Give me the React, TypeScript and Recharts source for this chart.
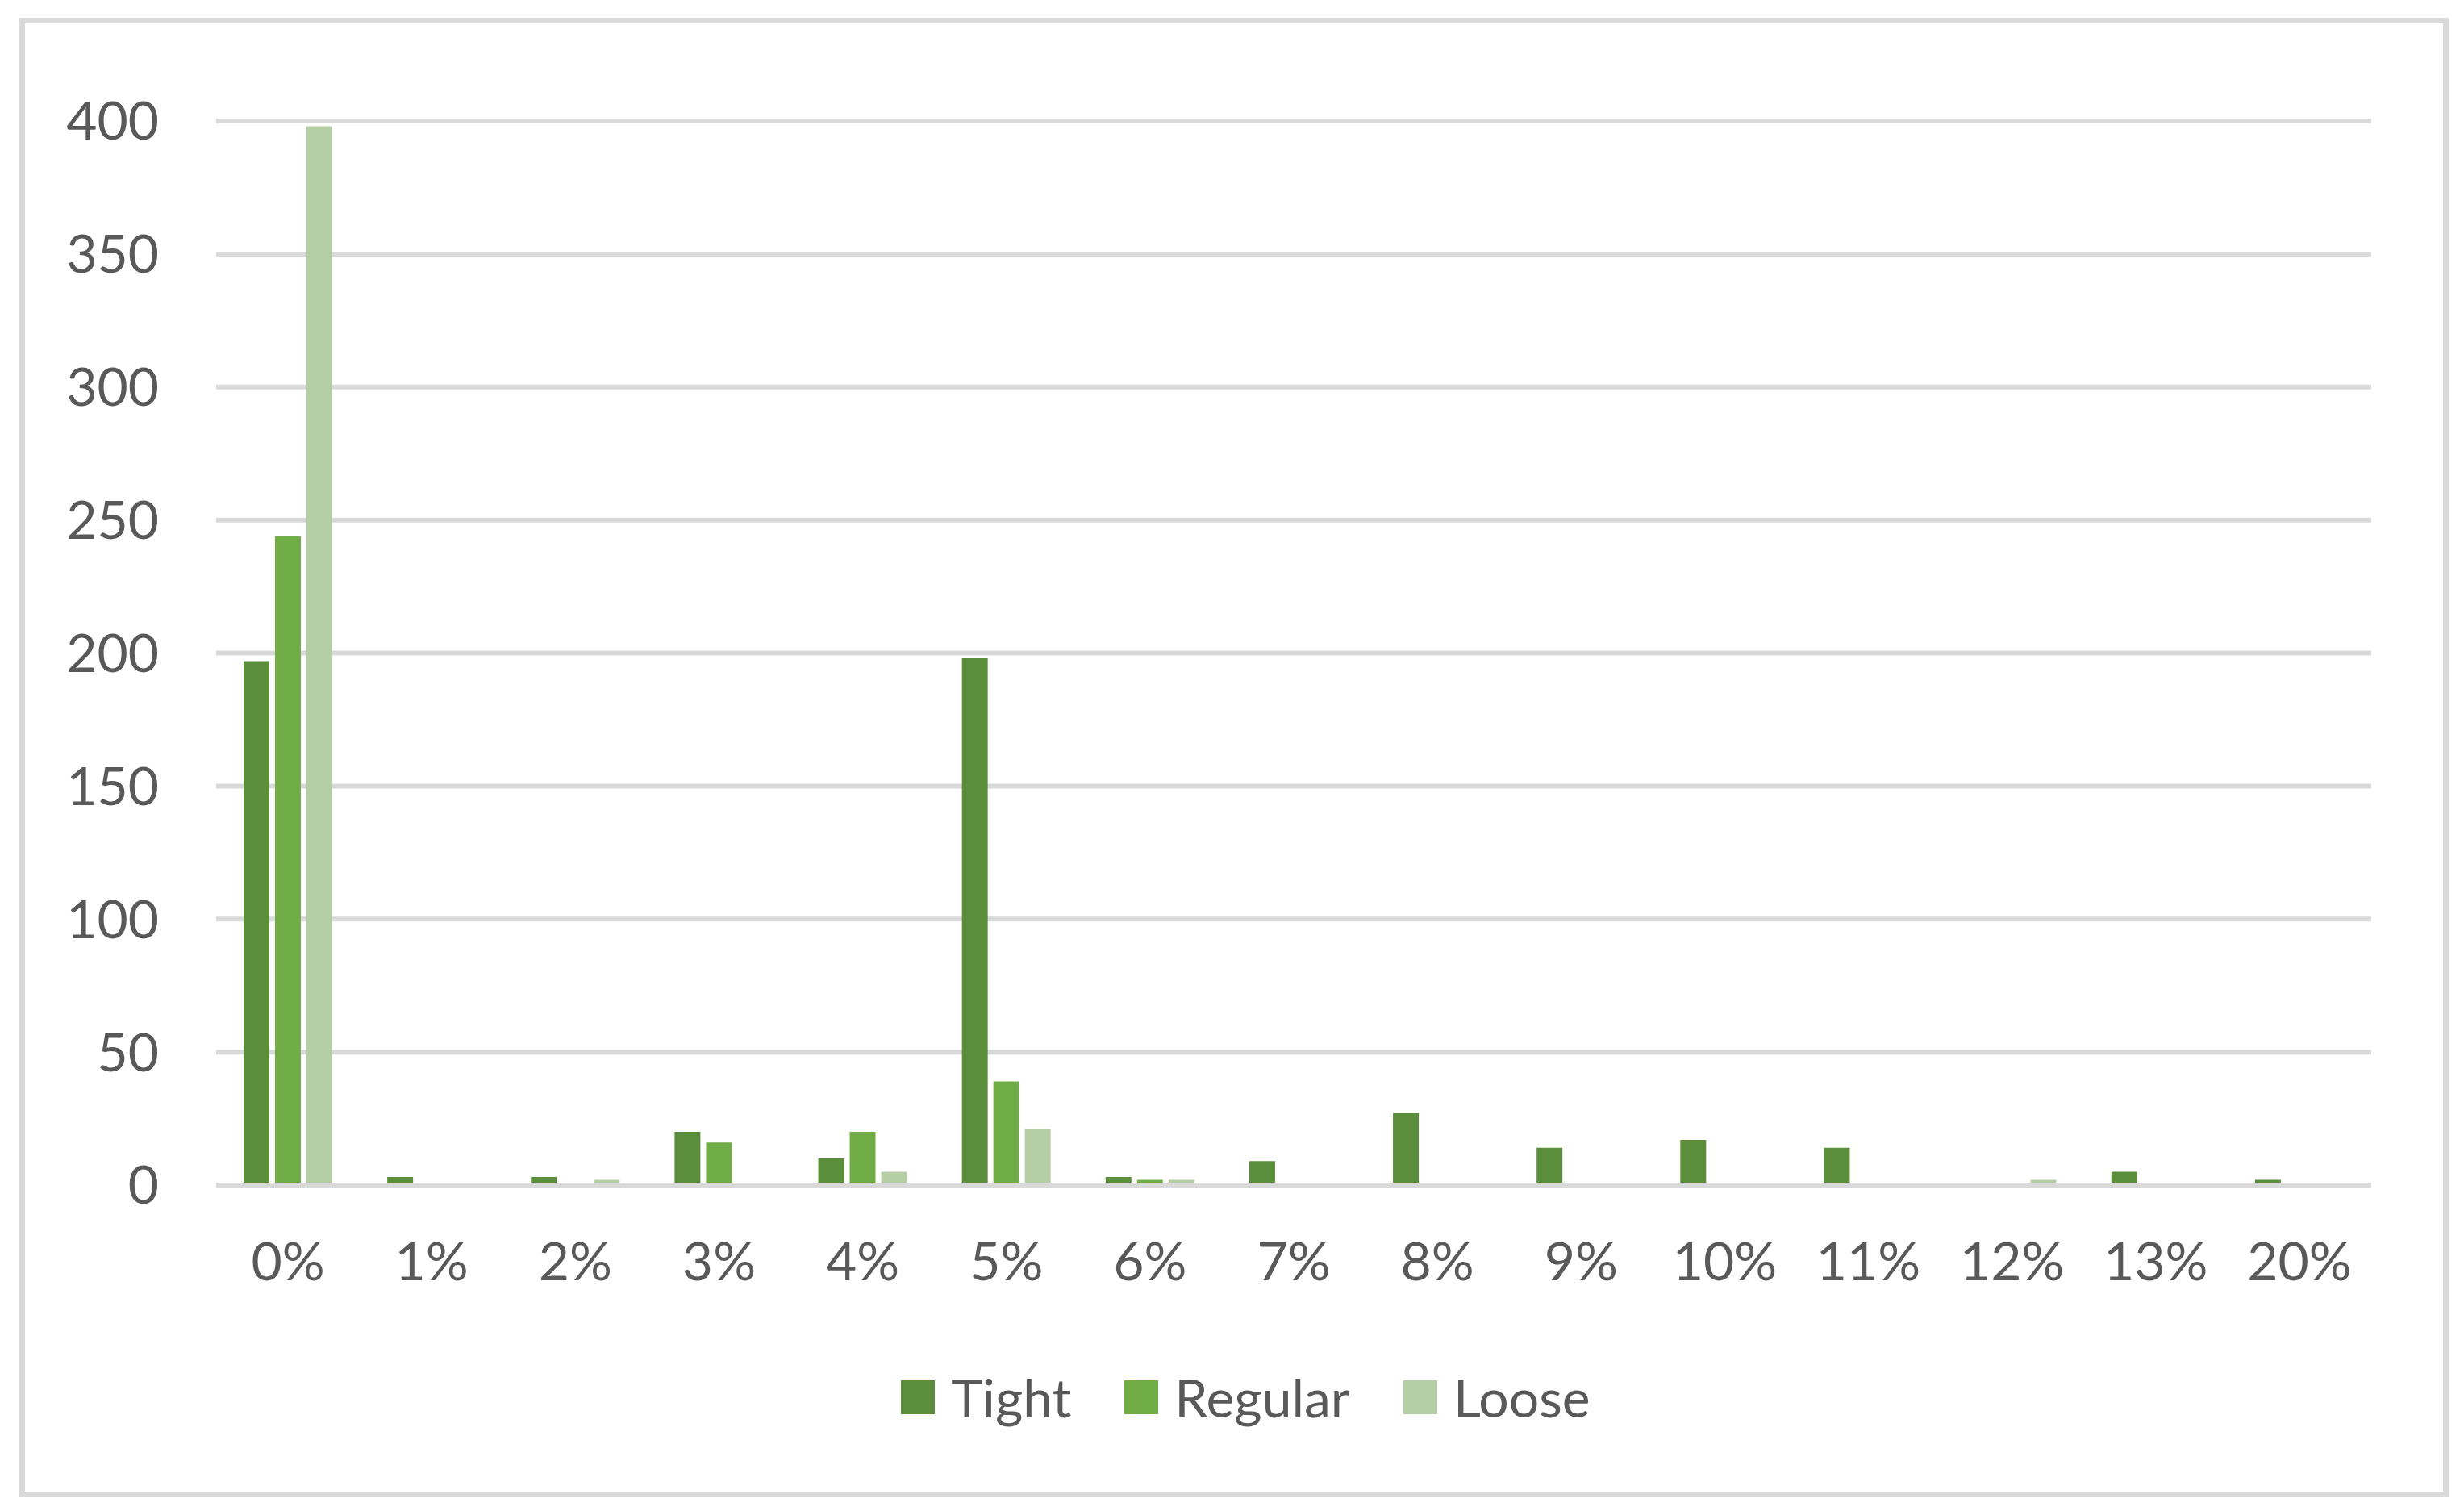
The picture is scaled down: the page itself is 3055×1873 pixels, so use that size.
import React from 'react';
import { BarChart, Bar, XAxis, YAxis, CartesianGrid, Legend } from 'recharts';

const categories = ['0%', '1%', '2%', '3%', '4%', '5%', '6%', '7%', '8%', '9%', '10%', '11%', '12%', '13%', '20%'];
const tightValues = [197, 3, 3, 20, 10, 198, 3, 9, 27, 14, 17, 14, 0, 5, 2];
const regularValues = [244, 0, 0, 16, 20, 39, 2, 0, 0, 0, 0, 0, 0, 0, 0];
const looseValues = [398, 0, 2, 0, 5, 21, 2, 0, 0, 0, 0, 0, 2, 0, 0];
const yTicks = [0, 50, 100, 150, 200, 250, 300, 350, 400];
const seriesNames = ['Tight', 'Regular', 'Loose'];
const seriesColors = ['#5b8e3a', '#71ad47', '#b5cea6'];

const data = categories.map((c, i) => ({
  category: c,
  Tight: tightValues[i],
  Regular: regularValues[i],
  Loose: looseValues[i],
}));

const FONT = 'Lato, "Open Sans", sans-serif';
const TEXT = '#595959';
const GRID = '#d9d9d9';

function LegendContent(props: any) {
  const payload = [...(props.payload || [])].sort(
    (a: any, b: any) => seriesNames.indexOf(a.value) - seriesNames.indexOf(b.value)
  );
  return (
    <div
      style={{
        display: 'flex',
        justifyContent: 'center',
        alignItems: 'center',
        paddingLeft: 34,
        fontFamily: FONT,
        fontSize: 66,
        color: TEXT,
      }}
    >
      {payload.map((p: any, i: number) => (
        <div
          key={i}
          style={{ display: 'flex', alignItems: 'center', marginRight: i < payload.length - 1 ? 66 : 0 }}
        >
          <div style={{ width: 42, height: 42, background: p.color, marginRight: 20 }} />
          <span style={{ lineHeight: '1' }}>{p.value}</span>
        </div>
      ))}
    </div>
  );
}

export default function App() {
  return (
    <div style={{ position: 'absolute', left: 0, top: 0, width: 3055, height: 1873, background: '#fff' }}>
      <div
        style={{
          position: 'absolute',
          left: 24,
          top: 22,
          width: 3012,
          height: 1834,
          border: `7px solid ${GRID}`,
          boxSizing: 'border-box',
        }}
      />
      <div style={{ position: 'absolute', left: 0, top: 0 }}>
        <BarChart
          width={3055}
          height={1873}
          data={data}
          margin={{ top: 150, right: 115, bottom: 304, left: 0 }}
          barCategoryGap={34}
          barGap={7}
          style={{ fontFamily: FONT }}
        >
          <CartesianGrid vertical={false} stroke={GRID} strokeWidth={6} />
          <YAxis
            width={268}
            domain={[0, 400]}
            ticks={yTicks}
            interval={0}
            axisLine={false}
            tickLine={false}
            tickSize={0}
            tickMargin={71}
            tick={{ fill: TEXT, fontSize: 66, fontFamily: FONT }}
          />
          {seriesNames.map((name, i) => (
            <Bar
              key={name}
              dataKey={name}
              name={name}
              fill={seriesColors[i]}
              isAnimationActive={false}
            />
          ))}
          <XAxis
            dataKey="category"
            height={100}
            interval={0}
            axisLine={{ stroke: GRID, strokeWidth: 6 }}
            tickLine={false}
            tickSize={0}
            tickMargin={71}
            tick={{ fill: TEXT, fontSize: 66, fontFamily: FONT }}
          />
          <Legend
            layout="horizontal"
            verticalAlign="middle"
            align="center"
            content={<LegendContent />}
            wrapperStyle={{ top: 1699, left: 0, width: 3055 }}
          />
        </BarChart>
      </div>
    </div>
  );
}
